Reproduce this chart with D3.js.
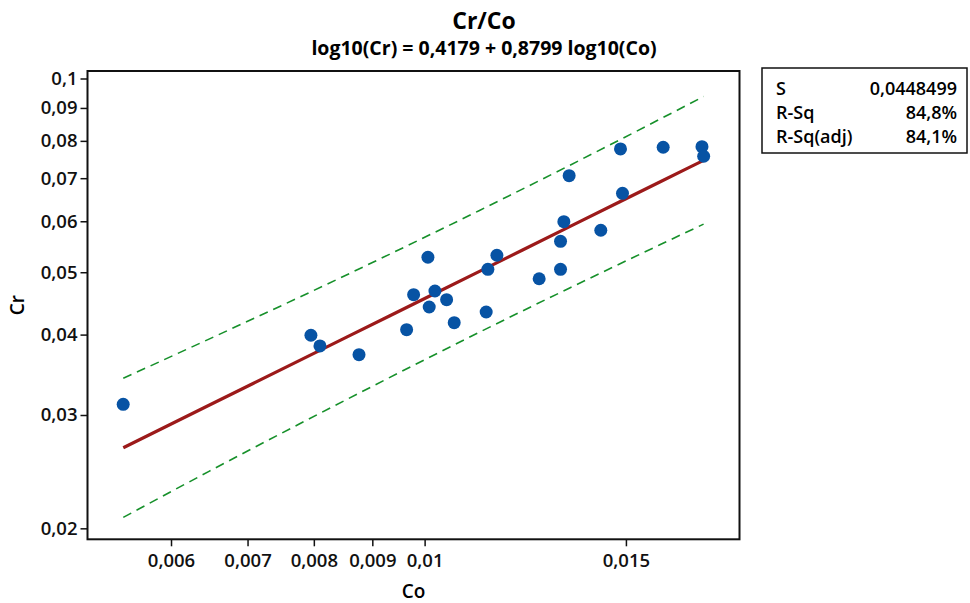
<!DOCTYPE html>
<html>
<head>
<meta charset="utf-8">
<script src="https://cdn.jsdelivr.net/npm/d3@7"></script>
<style>
  body { margin: 0; background: #fff; }
  svg { font-family: "Open Sans", "Noto Sans", sans-serif; }
</style>
</head>
<body>
<div id="chart"></div>
<script>
// Dados (Co, Cr)
const co = [0.005449, 0.007953, 0.008099, 0.008762, 0.009644, 0.009781, 0.010067, 0.010093,
  0.010210, 0.010453, 0.010614, 0.011320, 0.011359, 0.011567, 0.012595, 0.013149, 0.013149,
  0.013237, 0.013379, 0.014260, 0.014837, 0.014897, 0.016169, 0.017483, 0.017543];
const cr = [0.03117, 0.03991, 0.03841, 0.03723, 0.04071, 0.04614, 0.05275, 0.04415,
  0.04675, 0.04532, 0.04175, 0.04337, 0.05053, 0.05313, 0.04885, 0.05053, 0.05585,
  0.05991, 0.07063, 0.05810, 0.07772, 0.06630, 0.07819, 0.07836, 0.07571];

// Linha ajustada e intervalo de predição
const bandCo = [0.00545, 0.006477, 0.007768, 0.009315, 0.011169, 0.013393, 0.016059, 0.01754];
const fitCr = [0.02668, 0.03106, 0.03644, 0.04276, 0.05016, 0.05886, 0.06904, 0.07461];
const upperCr = [0.03421, 0.03936, 0.04571, 0.05330, 0.06237, 0.07329, 0.08644, 0.09376];
const lowerCr = [0.02080, 0.02452, 0.02905, 0.03429, 0.04035, 0.04726, 0.05515, 0.05939];

const xTicks = [0.006, 0.007, 0.008, 0.009, 0.01, 0.015];
const yTicks = [0.02, 0.03, 0.04, 0.05, 0.06, 0.07, 0.08, 0.09, 0.1];

const statLabels = ["S", "R-Sq", "R-Sq(adj)"];
const statValues = ["0,0448499", "84,8%", "84,1%"];

const width = 970, height = 603;
const plot = { left: 87.5, right: 739.5, top: 71, bottom: 539.3 };

const svg = d3.select("#chart").append("svg")
    .attr("width", width)
    .attr("height", height);

const x = d3.scaleLog().domain([0.005071, 0.018856]).range([plot.left, plot.right]);
const y = d3.scaleLog().domain([0.01923, 0.10272]).range([plot.bottom, plot.top]);

const fmt = d => String(d).replace(".", ",");

function styleAxis(g) {
  g.select(".domain").remove();
  g.attr("font-family", null).attr("font-size", null);
  g.selectAll(".tick line").attr("stroke", "#111").attr("stroke-width", 1.5);
  g.selectAll(".tick text")
      .attr("fill", "#111")
      .style("font-size", "18.5px")
      .style("font-weight", "600");
}

// Eixos
svg.append("g")
    .attr("transform", "translate(0," + plot.bottom + ")")
    .call(d3.axisBottom(x).tickValues(xTicks).tickFormat(fmt).tickSize(7).tickSizeOuter(0).tickPadding(8))
    .call(styleAxis);

svg.append("g")
    .attr("transform", "translate(" + plot.left + ",0)")
    .call(d3.axisLeft(y).tickValues(yTicks).tickFormat(fmt).tickSize(7).tickSizeOuter(0).tickPadding(3))
    .call(styleAxis);

// Moldura
svg.append("rect")
    .attr("x", plot.left).attr("y", plot.top)
    .attr("width", plot.right - plot.left)
    .attr("height", plot.bottom - plot.top)
    .attr("fill", "none")
    .attr("stroke", "#111")
    .attr("stroke-width", 2);

// Intervalo de predição
const band = (vals) => d3.line()
    .x((d, i) => x(bandCo[i]))
    .y(d => y(d))
    .curve(d3.curveMonotoneX)(vals);

[upperCr, lowerCr].forEach(vals => {
  svg.append("path")
      .attr("d", band(vals))
      .attr("fill", "none")
      .attr("stroke", "#16902a")
      .attr("stroke-width", 1.6)
      .attr("stroke-dasharray", "9,6");
});

// Linha ajustada
svg.append("path")
    .attr("d", band(fitCr))
    .attr("fill", "none")
    .attr("stroke", "#9c1a1a")
    .attr("stroke-width", 3.2);

// Pontos
svg.append("g")
    .selectAll("circle")
    .data(co)
    .enter().append("circle")
    .attr("cx", d => x(d))
    .attr("cy", (d, i) => y(cr[i]))
    .attr("r", 6.5)
    .attr("fill", "#0753a4");

// Títulos
svg.append("text")
    .attr("x", 484).attr("y", 29)
    .attr("text-anchor", "middle")
    .style("font-size", "23px").style("font-weight", "700")
    .text("Cr/Co");

svg.append("text")
    .attr("x", 484).attr("y", 55)
    .attr("text-anchor", "middle")
    .style("font-size", "19.5px").style("font-weight", "700")
    .text("log10(Cr) = 0,4179 + 0,8799 log10(Co)");

svg.append("text")
    .attr("x", (plot.left + plot.right) / 2).attr("y", 597.5)
    .attr("text-anchor", "middle")
    .style("font-size", "19px").style("font-weight", "600")
    .text("Co");

svg.append("text")
    .attr("transform", "translate(24," + ((plot.top + plot.bottom) / 2) + ") rotate(-90)")
    .attr("text-anchor", "middle")
    .style("font-size", "19px").style("font-weight", "600")
    .text("Cr");

// Caixa de estatísticas
const box = svg.append("g").attr("transform", "translate(762,68)");
box.append("rect")
    .attr("width", 205).attr("height", 85)
    .attr("fill", "#fff").attr("stroke", "#111").attr("stroke-width", 1.5);

statLabels.forEach((s, i) => {
  box.append("text")
      .attr("x", 14).attr("y", 27 + i * 24)
      .style("font-size", "18px").style("font-weight", "600")
      .text(s);
  box.append("text")
      .attr("x", 195).attr("y", 27 + i * 24)
      .attr("text-anchor", "end")
      .style("font-size", "18px").style("font-weight", "600")
      .text(statValues[i]);
});
</script>
</body>
</html>
